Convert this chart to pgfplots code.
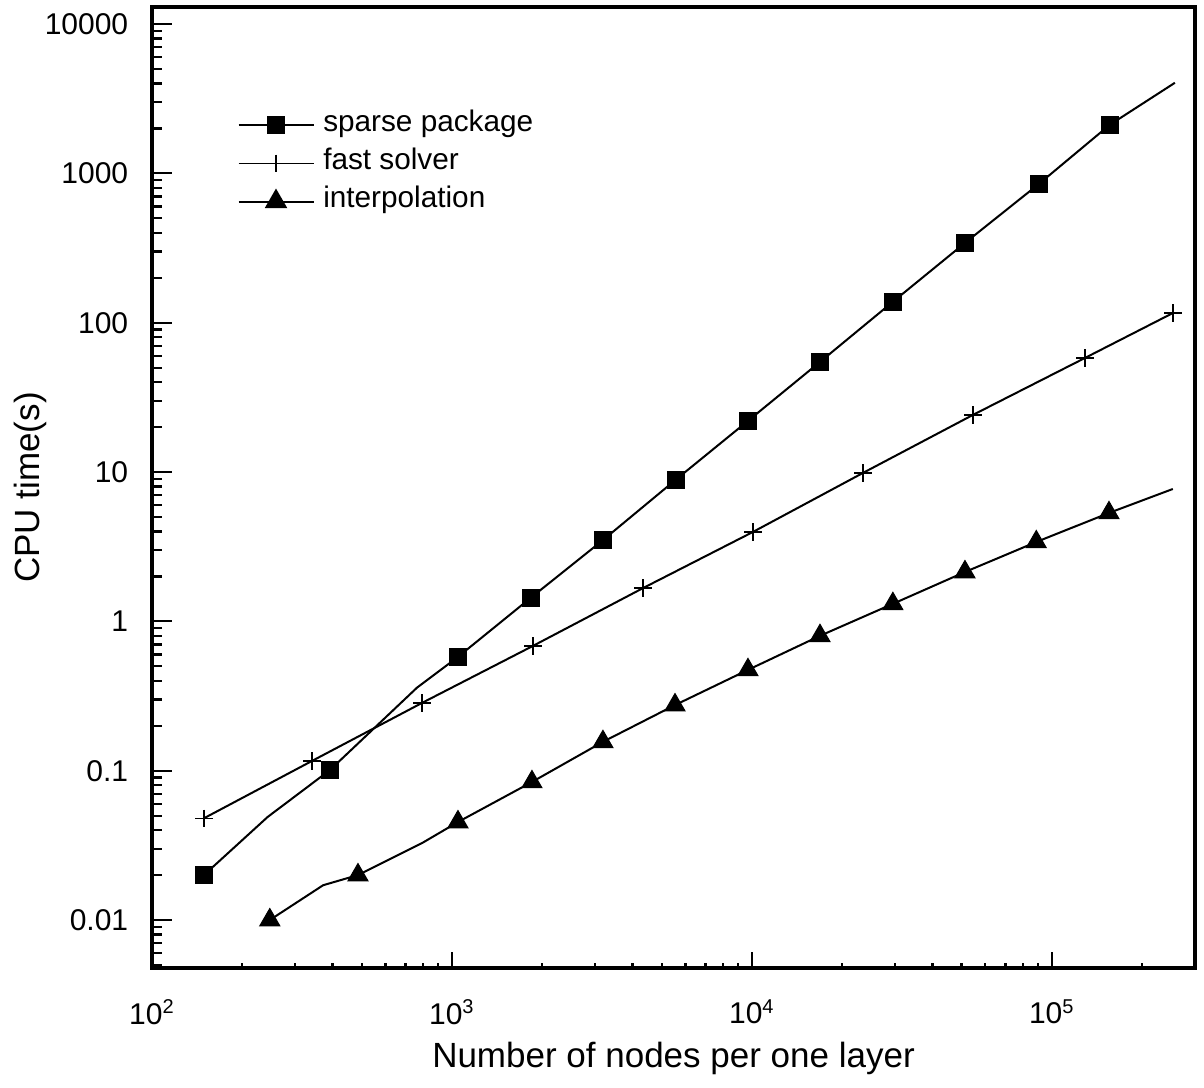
\documentclass[border=0pt]{standalone}
\usepackage{pgfplots}
\pgfplotsset{compat=1.18}
\usepackage{fontspec}
\setmainfont{Liberation Sans}
\begin{document}
\begin{tikzpicture}
\begin{loglogaxis}[
  at={(0,0)}, anchor=south west,
  scale only axis, width=417.2pt, height=384.4pt,
  xmin=100, xmax=3.0e5, ymin=0.00477, ymax=13000,
  xtick={100,1000,10000,100000},
  xticklabels={10\textsuperscript{2},10\textsuperscript{3},10\textsuperscript{4},10\textsuperscript{5}},
  ytick={0.01,0.1,1,10,100,1000,10000},
  yticklabels={0.01,0.1,1,10,100,1000,10000},
  minor xtick={200,300,400,500,600,700,800,900,2000,3000,4000,5000,6000,7000,8000,9000,20000,30000,40000,50000,60000,70000,80000,90000,200000},
  minor ytick={0.005,0.006,0.007,0.008,0.009,0.02,0.03,0.04,0.05,0.06,0.07,0.08,0.09,0.2,0.3,0.4,0.5,0.6,0.7,0.8,0.9,2,3,4,5,6,7,8,9,20,30,40,50,60,70,80,90,200,300,400,500,600,700,800,900,2000,3000,4000,5000,6000,7000,8000,9000},
  tick align=inside, tick pos=left,
  major tick length=8pt, minor tick length=4pt,
  every minor x tick/.append style={/pgfplots/minor tick length=2.2pt},
  every major x tick/.append style={/pgfplots/major tick length=6.5pt},
  tick style={black, line width=0.9pt},
  axis line style={line width=1.3pt},
  ticklabel style={font=\fontsize{12}{14}\selectfont},
  xticklabel style={yshift=-9pt},
  yticklabel style={xshift=-6pt},
  xlabel={Number of nodes per one layer},
  ylabel={CPU time(s)},
  label style={font=\fontsize{14}{16}\selectfont},
  xlabel style={at={(axis description cs:0.5,0)}, anchor=base, yshift=-39.6pt},
  ylabel style={at={(axis description cs:-0.117,0.5)}, anchor=center},
  legend cell align=left,
  legend style={draw=none, fill=none, inner sep=0pt,
    at={(axis description cs:0.0815,0.892)}, anchor=north west,
    row sep=4.3pt, column sep=3pt,
    font=\fontsize{11.9}{14}\selectfont,
    nodes={inner sep=0.5pt, text height=0.75em, text depth=0.25em}},
]
% lines
\addplot[black, line width=0.8pt, forget plot] coordinates {
(149,0.020) (243,0.049) (392,0.101) (765,0.36) (1047,0.578) (1833,1.44) (3186,3.5) (5580,8.9) (9700,22) (16860,54.6) (29500,138) (51300,342) (90600,851) (156000,2115) (257000,4040)};
\addplot[black, line width=0.8pt, forget plot] coordinates {
(149,0.048) (341,0.116) (794,0.284) (1860,0.684) (4335,1.67) (10080,3.97) (23450,9.86) (54500,24.1) (128800,58) (253000,116)};
\addplot[black, line width=0.8pt, forget plot] coordinates {
(247,0.010) (372,0.0171) (486,0.020) (800,0.033) (1047,0.0453) (1848,0.084) (3186,0.156) (5540,0.275) (9700,0.473) (16860,0.80) (29500,1.31) (51300,2.14) (88700,3.4) (155000,5.32) (253000,7.7)};
% marks
\addplot[black, only marks, mark=square*, mark size=3.4pt,
  legend image code/.code={\draw[black, line width=0.8pt, sharp plot, mark=square*, mark size=3.2pt, mark repeat=2, mark phase=2] plot coordinates {(0pt,0pt) (15pt,0pt) (30pt,0pt)};}]
coordinates {(149,0.020) (392,0.101) (1047,0.578) (1833,1.44) (3186,3.5) (5580,8.9) (9700,22) (16860,54.6) (29500,138) (51300,342) (90600,851) (156000,2115)};
\addlegendentry{sparse package}
\addplot[black, only marks, mark=+, mark size=3.5pt, mark options={line width=0.6pt},
  legend image code/.code={\draw[black, line width=0.6pt, sharp plot, mark=+, mark size=3.5pt, mark repeat=2, mark phase=2] plot coordinates {(0pt,0pt) (15pt,0pt) (30pt,0pt)};}]
coordinates {(149,0.048) (341,0.116) (794,0.284) (1860,0.684) (4335,1.67) (10080,3.97) (23450,9.86) (54500,24.1) (128800,58) (253000,116)};
\addlegendentry{fast solver}
\addplot[black, only marks, mark=triangle*, mark size=4.6pt,
  legend image code/.code={\draw[black, line width=0.8pt, sharp plot, mark=triangle*, mark size=4.4pt, mark repeat=2, mark phase=2] plot coordinates {(0pt,0pt) (15pt,0pt) (30pt,0pt)};}]
coordinates {(247,0.010) (486,0.020) (1047,0.0453) (1848,0.084) (3186,0.156) (5540,0.275) (9700,0.473) (16860,0.80) (29500,1.31) (51300,2.14) (88700,3.4) (155000,5.32)};
\addlegendentry{interpolation}
\end{loglogaxis}
\pgfresetboundingbox
\path[use as bounding box] (-60.8pt,-47.6pt) rectangle (420.8pt,387.2pt);
\end{tikzpicture}
\end{document}
